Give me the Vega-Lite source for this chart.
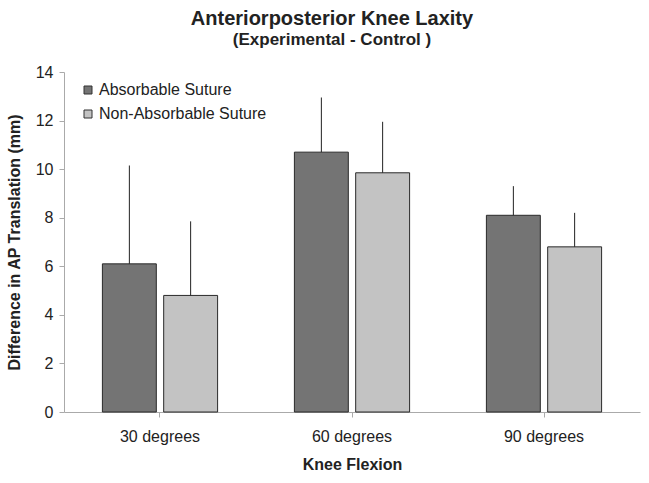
{
  "$schema": "https://vega.github.io/schema/vega-lite/v6.json",
  "width": 576,
  "height": 340,
  "autosize": {"type": "none"},
  "padding": {"left": 64, "top": 72, "right": 9, "bottom": 71},
  "background": "white",
  "config": {
    "font": "Liberation Sans",
    "view": {"stroke": null},
    "axis": {"labelFont": "Liberation Sans", "titleFont": "Liberation Sans"}
  },
  "title": {
    "text": "Anteriorposterior Knee Laxity",
    "subtitle": "(Experimental - Control )",
    "anchor": "middle",
    "frame": "group",
    "dx": -20,
    "offset": 16,
    "fontSize": 20,
    "fontWeight": "bold",
    "color": "#222",
    "subtitleFontSize": 17,
    "subtitleFontWeight": "bold",
    "subtitleColor": "#222",
    "subtitlePadding": 3,
    "font": "Liberation Sans",
    "subtitleFont": "Liberation Sans"
  },
  "data": {
    "values": [
      {"flexion": "30 degrees", "suture": "Absorbable Suture", "value": 6.1, "upper": 10.15},
      {"flexion": "30 degrees", "suture": "Non-Absorbable Suture", "value": 4.8, "upper": 7.85},
      {"flexion": "60 degrees", "suture": "Absorbable Suture", "value": 10.7, "upper": 12.95},
      {"flexion": "60 degrees", "suture": "Non-Absorbable Suture", "value": 9.85, "upper": 11.95},
      {"flexion": "90 degrees", "suture": "Absorbable Suture", "value": 8.1, "upper": 9.3},
      {"flexion": "90 degrees", "suture": "Non-Absorbable Suture", "value": 6.8, "upper": 8.2}
    ]
  },
  "encoding": {
    "x": {
      "field": "flexion",
      "type": "nominal",
      "scale": {"paddingInner": 0.4, "paddingOuter": 0.2},
      "axis": {
        "title": "Knee Flexion",
        "titleFontSize": 16,
        "titleFontWeight": "bold",
        "titleColor": "#222",
        "titlePadding": 12,
        "labelAngle": 0,
        "labelFontSize": 16,
        "labelColor": "#222",
        "labelPadding": 11,
        "domainColor": "#aaa",
        "tickColor": "#aaa",
        "tickSize": 5,
        "ticks": true
      }
    },
    "xOffset": {"field": "suture", "type": "nominal", "scale": {"paddingInner": 0.12}}
  },
  "layer": [
    {
      "mark": {"type": "bar", "stroke": "#2a2a2a", "strokeWidth": 1},
      "encoding": {
        "y": {
          "field": "value",
          "type": "quantitative",
          "scale": {"domain": [0, 14], "nice": false},
          "axis": {
            "title": "Difference in AP Translation (mm)",
            "titleFontSize": 16,
            "titleFontWeight": "bold",
            "titleColor": "#222",
            "titlePadding": 13,
            "values": [0, 2, 4, 6, 8, 10, 12, 14],
            "labelFontSize": 16,
            "labelColor": "#222",
            "labelPadding": 6,
            "grid": false,
            "domainColor": "#aaa",
            "tickColor": "#aaa",
            "tickSize": 5
          }
        },
        "fill": {
          "field": "suture",
          "type": "nominal",
          "scale": {"domain": ["Absorbable Suture", "Non-Absorbable Suture"], "range": ["#747474", "#c3c3c3"]},
          "legend": {
            "title": null,
            "orient": "none",
            "legendX": 16,
            "legendY": 10,
            "symbolType": "square",
            "symbolSize": 64,
            "symbolStrokeColor": "#333",
            "symbolStrokeWidth": 1,
            "labelFontSize": 16,
            "labelColor": "#222",
            "labelOffset": 3,
            "labelLimit": 400,
            "rowPadding": 8
          }
        }
      }
    },
    {
      "mark": {"type": "rule", "color": "#222", "strokeWidth": 1},
      "encoding": {
        "y": {"field": "value", "type": "quantitative"},
        "y2": {"field": "upper"}
      }
    }
  ]
}
